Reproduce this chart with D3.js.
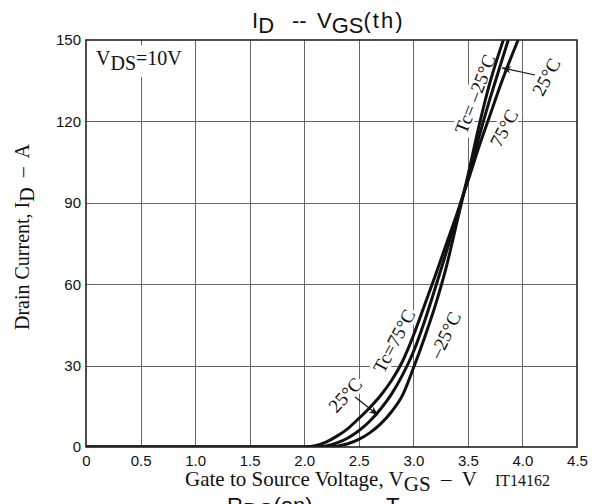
<!DOCTYPE html>
<html>
<head>
<meta charset="utf-8">
<script src="https://cdn.jsdelivr.net/npm/d3@7/dist/d3.min.js"></script>
<style>
  body { margin: 0; background: #fff; }
  svg { display: block; }
  .serif { font-family: "Liberation Serif", "Times New Roman", serif; fill: #111; }
  .sans { font-family: "Liberation Sans", Arial, sans-serif; fill: #111; }
</style>
</head>
<body>
<svg id="chart" width="603" height="504"></svg>
<script>
// Axis ticks
const xTicks = [0, 0.5, 1.0, 1.5, 2.0, 2.5, 3.0, 3.5, 4.0, 4.5];
const xTickLabels = ["0", "0.5", "1.0", "1.5", "2.0", "2.5", "3.0", "3.5", "4.0", "4.5"];
const yTicks = [0, 30, 60, 90, 120, 150];
const yTickLabels = ["0", "30", "60", "90", "120", "150"];

// Transfer characteristics, ID (A) vs VGS (V), one pair of arrays per case temperature
const vgsTc75 = [0, 1.9, 2.0, 2.1, 2.2, 2.3, 2.4, 2.5, 2.6, 2.7, 2.8, 2.9, 3.0, 3.1, 3.2, 3.3, 3.4, 3.5, 3.6, 3.7, 3.8, 3.9, 3.96];
const idTc75  = [0, 0,   0,   0.5, 1.8, 4.0, 6.8, 10.5, 14.5, 19, 24.5, 31.5, 41, 52, 63, 74.5, 86, 98, 110.5, 122, 133.5, 144, 150];

const vgsTc25 = [0, 2.0, 2.1, 2.2, 2.3, 2.4, 2.5, 2.6, 2.7, 2.8, 2.9, 3.0, 3.1, 3.2, 3.3, 3.4, 3.5, 3.6, 3.7, 3.8, 3.87];
const idTc25  = [0, 0,   0,   0.4, 1.5, 3.3, 6.0, 9.5, 14, 19.5, 26.5, 35, 46, 58.5, 71.5, 85, 99, 114, 128, 141, 150];

const vgsTcM25 = [0, 2.1, 2.2, 2.3, 2.4, 2.5, 2.6, 2.7, 2.8, 2.9, 3.0, 3.1, 3.2, 3.3, 3.4, 3.5, 3.6, 3.7, 3.8, 3.825];
const idTcM25  = [0, 0,   0,   0.3, 1.2, 2.8, 5.2, 8.5, 13, 19, 29, 40, 52, 66, 83, 100, 118, 134, 147, 150];

const svg = d3.select("#chart");
const plot = { left: 86, top: 40, right: 577, bottom: 447 };

const x = d3.scaleLinear().domain([0, 4.5]).range([plot.left, plot.right]);
const y = d3.scaleLinear().domain([0, 150]).range([plot.bottom, plot.top]);

// Grid lines
const grid = svg.append("g").attr("stroke", "#666").attr("stroke-width", 1).attr("shape-rendering", "crispEdges");
grid.selectAll(".vg").data(xTicks.slice(1, -1)).join("line")
  .attr("x1", d => Math.round(x(d)) + 0.5).attr("x2", d => Math.round(x(d)) + 0.5)
  .attr("y1", plot.top).attr("y2", plot.bottom);
grid.selectAll(".hg").data(yTicks.slice(1, -1)).join("line")
  .attr("y1", d => Math.round(y(d)) + 0.5).attr("y2", d => Math.round(y(d)) + 0.5)
  .attr("x1", plot.left).attr("x2", plot.right);

// Tick labels via axes (no tick marks, just the numbers)
const xAxis = d3.axisBottom(x).tickValues(xTicks).tickFormat((d, i) => xTickLabels[i]).tickSize(0).tickPadding(8);
const yAxis = d3.axisLeft(y).tickValues(yTicks).tickFormat((d, i) => yTickLabels[i]).tickSize(0).tickPadding(5);
const gx = svg.append("g").attr("transform", `translate(0,${plot.bottom})`).call(xAxis);
const gy = svg.append("g").attr("transform", `translate(${plot.left},0)`).call(yAxis);
[gx, gy].forEach(g => {
  g.select(".domain").remove();
  g.selectAll("text").attr("class", "sans").attr("font-size", 15).attr("fill", "#111");
});

// Label layer with white boxes that interrupt the grid
const bgLayer = svg.append("g");
const curveLayer = svg.append("g");
const textLayer = svg.append("g");

function rotatedLabel(vx, vy, angle, text, size) {
  const g = textLayer.append("g")
    .attr("transform", `translate(${x(vx)},${y(vy)}) rotate(${angle})`);
  const t = g.append("text").attr("class", "serif").attr("font-size", size)
    .attr("text-anchor", "middle").attr("dy", "0.35em").text(text);
  const b = t.node().getBBox();
  bgLayer.append("rect")
    .attr("transform", `translate(${x(vx)},${y(vy)}) rotate(${angle})`)
    .attr("x", b.x - 2).attr("y", b.y + 1).attr("width", b.width + 4).attr("height", b.height - 2)
    .attr("fill", "#fff");
}

// Curves
const line = d3.line().x(d => x(d[0])).y(d => y(d[1])).curve(d3.curveMonotoneX);
const defs = svg.append("defs");
defs.append("clipPath").attr("id", "plotclip").append("rect")
  .attr("x", plot.left).attr("y", plot.top - 1)
  .attr("width", plot.right - plot.left).attr("height", plot.bottom - plot.top + 1);

const series = [
  [vgsTc75, idTc75],
  [vgsTc25, idTc25],
  [vgsTcM25, idTcM25]
];
curveLayer.attr("clip-path", "url(#plotclip)").selectAll("path").data(series).join("path")
  .attr("d", s => line(s[0].map((v, i) => [v, s[1][i]])))
  .attr("fill", "none").attr("stroke", "#111").attr("stroke-width", 3)
  .attr("stroke-linejoin", "round");

// Frame
svg.append("rect")
  .attr("x", plot.left).attr("y", plot.top)
  .attr("width", plot.right - plot.left).attr("height", plot.bottom - plot.top)
  .attr("fill", "none").attr("stroke", "#222").attr("stroke-width", 1.6);

// Curve labels
rotatedLabel(2.374, 19.2, -47, "25°C", 19);
rotatedLabel(2.823, 39.1, -62, "Tc=75°C", 19);
rotatedLabel(3.29, 41.3, -64, "–25°C", 19);
rotatedLabel(3.565, 130.1, -69, "Tc= –25°C", 19);
rotatedLabel(3.83, 117.6, -62, "75°C", 19);
rotatedLabel(4.216, 136.4, -62, "25°C", 19);

// Arrows pointing at the 25°C curve
defs.append("marker").attr("id", "arrow").attr("viewBox", "0 0 10 10")
  .attr("refX", 10).attr("refY", 5).attr("markerWidth", 9).attr("markerHeight", 9)
  .attr("markerUnits", "userSpaceOnUse").attr("orient", "auto")
  .append("path").attr("d", "M0,1 L10,5 L0,9 L3,5 Z").attr("fill", "#111");
const arrows = [
  [[2.466, 18.4], [2.676, 11.8]],
  [[4.115, 137.1], [3.813, 139.7]]
];
textLayer.selectAll(".arr").data(arrows).join("line")
  .attr("x1", d => x(d[0][0])).attr("y1", d => y(d[0][1]))
  .attr("x2", d => x(d[1][0])).attr("y2", d => y(d[1][1]))
  .attr("stroke", "#111").attr("stroke-width", 1.2).attr("marker-end", "url(#arrow)");

// Condition box, top left
const cond = textLayer.append("text").attr("class", "serif").attr("font-size", 20)
  .attr("x", 96).attr("y", 65);
cond.append("tspan").text("V");
cond.append("tspan").attr("dy", 5).text("DS");
cond.append("tspan").attr("dy", -5).text("=10V");
const cb = cond.node().getBBox();
bgLayer.append("rect").attr("x", cb.x - 4).attr("y", 45).attr("width", cb.width + 8).attr("height", 32).attr("fill", "#fff");

// Title
const title = svg.append("text").attr("class", "sans").attr("font-size", 22).attr("y", 28);
title.append("tspan").attr("x", 252).text("I");
title.append("tspan").attr("dy", 5).text("D");
title.append("tspan").attr("x", 292).attr("dy", -5).text("--");
title.append("tspan").attr("x", 317).text("V");
title.append("tspan").attr("dy", 5).text("GS");
title.append("tspan").attr("dy", -5).attr("letter-spacing", 2).text("(th)");

// Axis titles
const xt = svg.append("text").attr("class", "serif").attr("font-size", 21).attr("y", 486).attr("x", 185);
xt.append("tspan").text("Gate to Source Voltage, V");
xt.append("tspan").attr("dy", 5).text("GS");
xt.append("tspan").attr("dy", -5).attr("xml:space", "preserve").text("  –  V");

svg.append("text").attr("class", "serif").attr("font-size", 16).attr("x", 495).attr("y", 486).text("IT14162");

const yt = svg.append("text").attr("class", "serif").attr("font-size", 20)
  .attr("transform", `translate(29,237) rotate(-90)`)
  .attr("text-anchor", "middle");
yt.append("tspan").text("Drain Current, I");
yt.append("tspan").attr("dy", 5).text("D");
yt.append("tspan").attr("dy", -5).attr("xml:space", "preserve").text("  –  A");

// Heading of the following chart, running off the bottom edge
const next = svg.append("text").attr("class", "sans").attr("font-size", 22).attr("y", 513);
next.append("tspan").attr("x", 227).text("R");
next.append("tspan").attr("dy", 5).text("DS");
next.append("tspan").attr("dy", -5).text("(on)");
next.append("tspan").attr("x", 352).text("--");
next.append("tspan").attr("x", 386).text("T");
next.append("tspan").attr("dy", 5).text("c");
</script>
</body>
</html>
